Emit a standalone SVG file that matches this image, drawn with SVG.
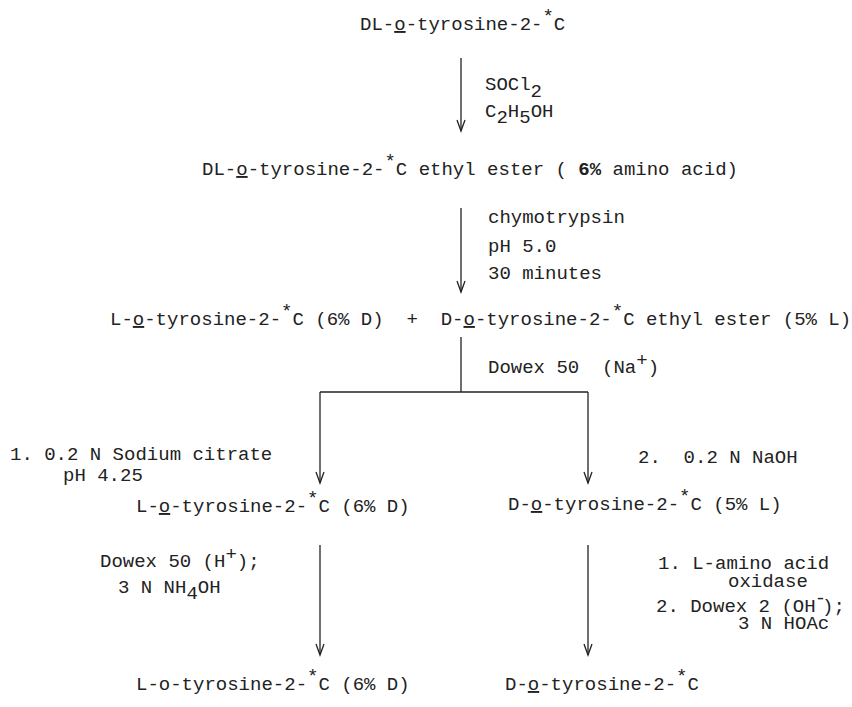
<svg xmlns="http://www.w3.org/2000/svg" width="852" height="707" viewBox="0 0 852 707">
<style>
text{font-family:"Liberation Mono","DejaVu Sans Mono",monospace;font-size:19px;fill:#222;white-space:pre}
.u{text-decoration:underline}
.ln{stroke:#222;stroke-width:1.3;fill:none}
.b{font-weight:bold}
</style>
<defs>
<marker id="ah" markerUnits="userSpaceOnUse" viewBox="-12 -6 14 12" markerWidth="14" markerHeight="12" refX="0" refY="0" orient="auto">
<path d="M-11,-4 L0,0 L-11,4" fill="none" stroke="#222" stroke-width="1.3"/>
</marker>
</defs>
<rect width="852" height="707" fill="#fff"/>
<g id="connectors">
<line class="ln" x1="461" y1="58" x2="461" y2="131" marker-end="url(#ah)"/>
<line class="ln" x1="461" y1="208" x2="461" y2="292" marker-end="url(#ah)"/>
<line class="ln" x1="461" y1="337" x2="461" y2="392"/>
<line class="ln" x1="320" y1="392" x2="588" y2="392"/>
<line class="ln" x1="320" y1="392" x2="320" y2="483" marker-end="url(#ah)"/>
<line class="ln" x1="588" y1="392" x2="588" y2="483" marker-end="url(#ah)"/>
<line class="ln" x1="320" y1="545" x2="320" y2="655" marker-end="url(#ah)"/>
<line class="ln" x1="588" y1="545" x2="588" y2="655" marker-end="url(#ah)"/>
</g>
<g id="n1"><text x="360" y="30">DL-<tspan class="u">o</tspan>-tyrosine-2-<tspan dy="-8">*</tspan><tspan dy="8">C</tspan></text></g>
<g id="r1">
<text x="485" y="90">SOCl<tspan dy="7">2</tspan></text>
<text x="485" y="117">C<tspan dy="6">2</tspan><tspan dy="-6">H</tspan><tspan dy="6">5</tspan><tspan dy="-6">OH</tspan></text>
</g>
<g id="n2"><text x="202" y="175">DL-<tspan class="u">o</tspan>-tyrosine-2-<tspan dy="-8">*</tspan><tspan dy="8">C ethyl ester ( </tspan><tspan class="b">6%</tspan> amino acid)</text></g>
<g id="r2">
<text x="488" y="223">chymotrypsin</text>
<text x="488" y="252">pH 5.0</text>
<text x="488" y="279">30 minutes</text>
</g>
<g id="n3"><text x="110" y="325">L-<tspan class="u">o</tspan>-tyrosine-2-<tspan dy="-8">*</tspan><tspan dy="8">C (6% D)  +  D-</tspan><tspan class="u">o</tspan>-tyrosine-2-<tspan dy="-8">*</tspan><tspan dy="8">C ethyl ester (5% L)</tspan></text></g>
<g id="r3"><text x="488" y="373">Dowex 50  (Na<tspan dy="-7">+</tspan><tspan dy="7">)</tspan></text></g>
<g id="r4">
<text x="10" y="460">1. 0.2 N Sodium citrate</text>
<text x="63" y="481">pH 4.25</text>
</g>
<g id="r5"><text x="638" y="463">2.  0.2 N NaOH</text></g>
<g id="n4"><text x="136" y="512">L-<tspan class="u">o</tspan>-tyrosine-2-<tspan dy="-8">*</tspan><tspan dy="8">C (6% D)</tspan></text></g>
<g id="n5"><text x="508" y="510">D-<tspan class="u">o</tspan>-tyrosine-2-<tspan dy="-8">*</tspan><tspan dy="8">C (5% L)</tspan></text></g>
<g id="r6">
<text x="100" y="567">Dowex 50 (H<tspan dy="-7">+</tspan><tspan dy="7">);</tspan></text>
<text x="118" y="593">3 N NH<tspan dy="6">4</tspan><tspan dy="-6">OH</tspan></text>
</g>
<g id="r7">
<text x="658" y="569">1. L-amino acid</text>
<text x="728" y="587">oxidase</text>
<text x="656" y="612">2. Dowex 2 (OH<tspan dy="-8" dx="-1">-</tspan><tspan dy="8" dx="-4">);</tspan></text>
<text x="738" y="629">3 N HOAc</text>
</g>
<g id="n6"><text x="136" y="690">L-o-tyrosine-2-<tspan dy="-8">*</tspan><tspan dy="8">C (6% D)</tspan></text></g>
<g id="n7"><text x="505" y="690">D-<tspan class="u">o</tspan>-tyrosine-2-<tspan dy="-8">*</tspan><tspan dy="8">C</tspan></text></g>
</svg>
